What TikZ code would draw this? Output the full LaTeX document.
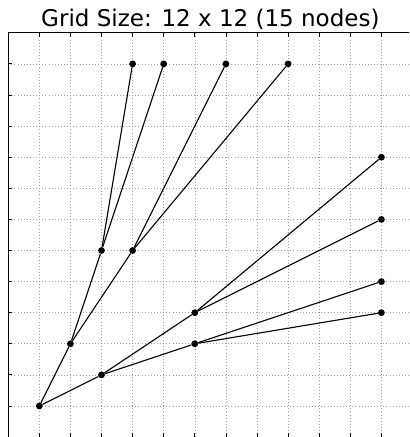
\documentclass[tikz,border=0pt]{standalone}
\usepackage{fontspec}
\setmainfont{DejaVu Sans}
\usepackage{tikz}

\begin{document}
\begin{tikzpicture}
[
    x = 31.1pt, y = 31.1pt,
    vert/.style={circle, fill = black, inner sep = 0pt, minimum size = 6.8pt},
    link/.style={draw, line width = 1.1pt},
    gridline/.style={draw = gray!75, line width = 0.6pt, dash pattern = on 0.8pt off 2.3pt},
    spine/.style={draw = black, line width = 1pt},
    tick/.style={draw = black, line width = 0.8pt},
    heading/.style={anchor = base, font = \fontsize{23}{26}\selectfont},
]
\useasboundingbox (-1.264,-0.997) rectangle (11.888,13.055);
\clip (-1.264,-0.997) rectangle (11.888,13.055);

% dotted grid
\foreach \i in {0,...,11} {
    \draw[gridline] (\i,-1) -- (\i,12);
    \draw[gridline] (-1,\i) -- (12,\i);
}

% frame with inward ticks
\draw[spine] (-1,-1) -- (-1,12) -- (12,12);
\foreach \i in {0,...,11} {
    \draw[tick] (\i,12) -- ++(0,-4pt);
    \draw[tick] (\i,-1) -- ++(0,4pt);
    \draw[tick] (-1,\i) -- ++(4pt,0);
}

\node[heading] (title) at (5.5,12.19) {Grid Size: 12 x 12 (15 nodes)};

% the tree
\node[vert] (root) at (0,0) {};
\node[vert] (12) at (1,2) {};
\node[vert] (21) at (2,1) {};
\node[vert] (25) at (2,5) {};
\node[vert] (35) at (3,5) {};
\node[vert] (53) at (5,3) {};
\node[vert] (52) at (5,2) {};
\node[vert] (311) at (3,11) {};
\node[vert] (411) at (4,11) {};
\node[vert] (611) at (6,11) {};
\node[vert] (811) at (8,11) {};
\node[vert] (118) at (11,8) {};
\node[vert] (116) at (11,6) {};
\node[vert] (114) at (11,4) {};
\node[vert] (113) at (11,3) {};

\draw[link] (root) -- (12);
\draw[link] (root) -- (21);
\draw[link] (12) -- (25);
\draw[link] (12) -- (35);
\draw[link] (25) -- (311);
\draw[link] (25) -- (411);
\draw[link] (35) -- (611);
\draw[link] (35) -- (811);
\draw[link] (21) -- (53);
\draw[link] (21) -- (52);
\draw[link] (53) -- (118);
\draw[link] (53) -- (116);
\draw[link] (52) -- (114);
\draw[link] (52) -- (113);
\end{tikzpicture}
\end{document}
